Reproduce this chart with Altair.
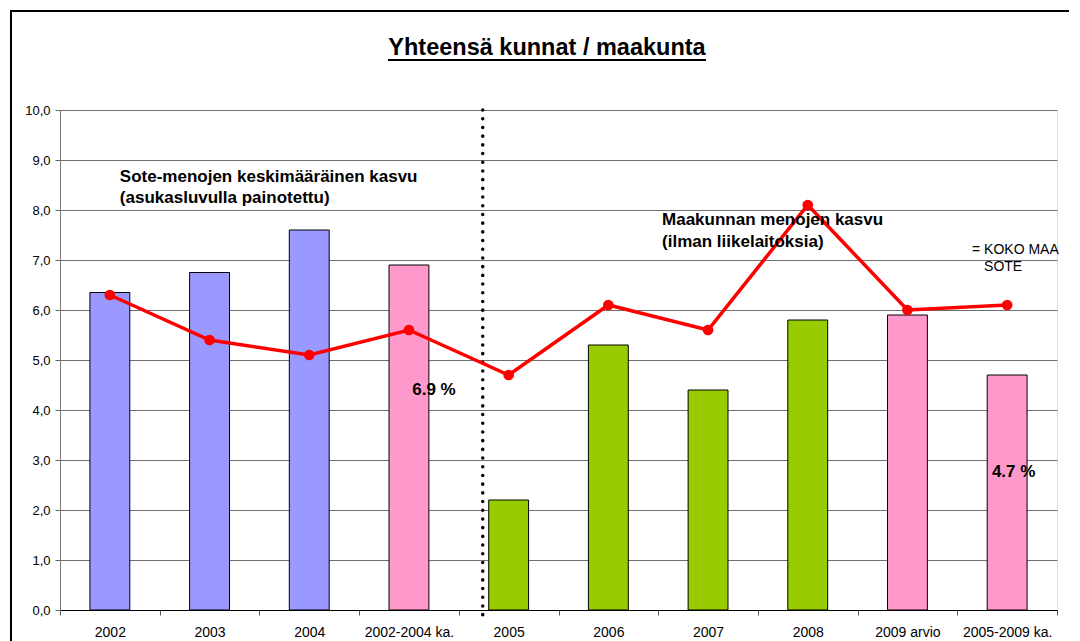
import altair as alt
import pandas as pd

cats = ["2002", "2003", "2004", "2002-2004 ka.", "2005", "2006", "2007", "2008",
        "2009 arvio", "2005-2009 ka."]
bar_vals = [6.35, 6.75, 7.6, 6.9, 2.2, 5.3, 4.4, 5.8, 5.9, 4.7]
line_vals = [6.3, 5.4, 5.1, 5.6, 4.7, 6.1, 5.6, 8.1, 6.0, 6.1]
groups = ["kunnat", "kunnat", "kunnat", "ka", "maakunta", "maakunta", "maakunta",
          "maakunta", "ka", "ka"]
group_names = ["kunnat", "ka", "maakunta"]
group_colors = ["#9999FF", "#FF99CC", "#99CC00"]

title_text = "Yhteensä kunnat / maakunta"
note_sote = ["Sote-menojen keskimääräinen kasvu", "(asukasluvulla painotettu)"]
note_maak = ["Maakunnan menojen kasvu", "(ilman liikelaitoksia)"]
note_koko1 = "= KOKO MAA"
note_koko2 = "SOTE"
avg1_label = "6.9 %"
avg2_label = "4.7 %"

FONT = "Liberation Sans"

df = pd.DataFrame({"cat": cats, "bar": bar_vals, "line": line_vals, "grp": groups})
one = pd.DataFrame({"a": [0]})

xscale = alt.Scale(type="band", domain=cats, paddingInner=0, paddingOuter=0)
yscale = alt.Scale(domain=[0, 10], nice=False, zero=True)

X = alt.X("cat:N", scale=xscale, sort=cats,
          axis=alt.Axis(title=None, labelAngle=0, tickBand="extent", labelFontSize=14,
                        labelPadding=10, tickSize=5, tickColor="#555555",
                        domainColor="#000000", grid=False, labelColor="#000000",
                        labelFont=FONT))
Y = alt.Y("bar:Q", scale=yscale,
          axis=alt.Axis(title=None, values=list(range(0, 11)),
                        labelExpr="replace(format(datum.value, '.1f'), '.', ',')",
                        labelFontSize=13, labelPadding=5, tickSize=5,
                        tickColor="#666666", domainColor="#777777", gridColor="#707070",
                        gridWidth=1, labelColor="#000000", labelFont=FONT))

frame = alt.Chart(one).mark_rect(fill=None, stroke="#000000", strokeWidth=2).encode(
    x=alt.value(-49), x2=alt.value(1100), y=alt.value(-99), y2=alt.value(700))

bars = alt.Chart(df).mark_bar(width=alt.RelativeBandSize(0.4), stroke="#000000",
                              strokeWidth=1).encode(
    x=X, y=Y,
    color=alt.Color("grp:N", scale=alt.Scale(domain=group_names, range=group_colors),
                    legend=None))

sep = alt.Chart(one).mark_rule(color="#000000", strokeWidth=3.5, strokeCap="round",
                               strokeDash=[0.1, 8.6]).encode(
    x=alt.XDatum("2005", bandPosition=0.24, scale=xscale),
    y=alt.YDatum(10, scale=yscale), y2=alt.value(507))

line = alt.Chart(df).mark_line(color="#FF0000", strokeWidth=3.5).encode(
    x=alt.X("cat:N", scale=xscale, sort=cats),
    y=alt.Y("line:Q", scale=yscale))
pts = alt.Chart(df).mark_point(filled=True, color="#FF0000", size=115, opacity=1).encode(
    x=alt.X("cat:N", scale=xscale, sort=cats),
    y=alt.Y("line:Q", scale=yscale))


def note(text, cat, yv, dx, size, bold, align="left", lh=None):
    kw = dict(align=align, baseline="middle", dx=dx, fontSize=size, font=FONT,
              fontWeight="bold" if bold else "normal", color="#000000")
    if lh:
        kw["lineHeight"] = lh
    return alt.Chart(one).mark_text(**kw).encode(
        x=alt.XDatum(cat, scale=xscale), y=alt.YDatum(yv, scale=yscale),
        text=alt.value(text))


notes = [
    note(note_sote, "2002", 8.67, 10, 17, True, lh=21),
    note(note_maak, "2007", 7.81, -46, 17, True, lh=22),
    note(note_koko1, "2009 arvio", 7.21, 64.6, 14, False),
    note(note_koko2, "2009 arvio", 6.87, 76.6, 14, False),
    note(avg1_label, "2002-2004 ka.", 4.41, 25, 17, True, align="center"),
    note(avg2_label, "2005-2009 ka.", 2.77, 6.5, 17, True, align="center"),
]

title = alt.Chart(one).mark_text(align="center", baseline="alphabetic", fontSize=23.5,
                                 fontWeight="bold", font=FONT, color="#000000").encode(
    x=alt.value(487), y=alt.value(-55), text=alt.value(title_text))
underline = alt.Chart(one).mark_rule(color="#000000", strokeWidth=2).encode(
    x=alt.value(328), x2=alt.value(646), y=alt.value(-50))

chart = alt.layer(frame, bars, sep, line, pts, *notes, title, underline).properties(
    width=997, height=500,
    autosize=alt.AutoSizeParams(type="none"),
    padding={"left": 52, "top": 102, "right": 12, "bottom": 31},
).configure_view(stroke="#808080", strokeWidth=1).configure(background="#FFFFFF")

chart.save("out.html", embed_options={"renderer": "svg", "actions": False})
